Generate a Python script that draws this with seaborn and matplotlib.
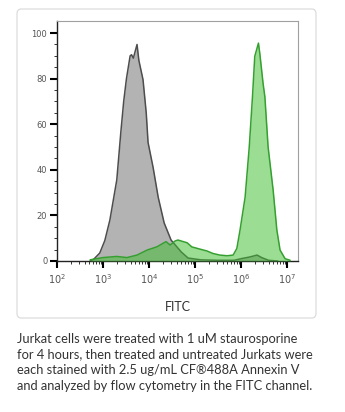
import numpy as np
import pandas as pd
import matplotlib
matplotlib.use("Agg")
import matplotlib.pyplot as plt
import seaborn as sns
from matplotlib.patches import FancyBboxPatch
from matplotlib.ticker import FixedLocator, LogLocator, NullFormatter, FuncFormatter

# ---- data (log10 FITC intensity, % of max) ----
untreated_log = [2.72, 2.80, 2.93, 3.04, 3.15, 3.30, 3.39, 3.45, 3.51, 3.59, 3.62, 3.66, 3.74,
                 3.78, 3.87, 3.94, 3.98, 4.09, 4.20, 4.33, 4.48, 4.70, 4.85, 5.13, 5.50, 5.85,
                 6.00, 6.20, 6.35, 6.45, 6.60, 6.80]
untreated_val = [0.0, 0.8, 3.5, 9.0, 18.0, 35.6, 57.0, 70.0, 80.0, 90.0, 90.5, 89.0, 95.0,
                 88.0, 79.6, 65.0, 52.0, 41.0, 28.0, 16.7, 9.2, 4.0, 1.3, 0.5, 0.3, 0.3,
                 1.0, 1.8, 2.6, 1.5, 0.3, 0.0]

treated_log = [2.72, 3.00, 3.30, 3.52, 3.74, 3.96, 4.17, 4.37, 4.46, 4.57, 4.63, 4.83, 4.93,
               5.11, 5.26, 5.39, 5.54, 5.70, 5.83, 5.91, 5.98, 6.09, 6.18, 6.25, 6.30, 6.38,
               6.41, 6.48, 6.52, 6.59, 6.70, 6.78, 6.85, 6.96, 7.07]
treated_val = [0.5, 1.5, 2.0, 1.5, 2.6, 4.8, 6.2, 8.5, 7.0, 8.8, 9.2, 8.0, 6.2,
               5.2, 4.4, 3.3, 2.6, 2.3, 2.6, 5.5, 13.6, 28.0, 50.0, 72.0, 89.8, 95.6,
               91.0, 78.0, 72.0, 50.0, 31.0, 13.6, 4.8, 1.0, 0.3]

y_ticks = [0, 20, 40, 60, 80, 100]
x_decades = [2, 3, 4, 5, 6, 7]
x_label = "FITC"
caption = ("Jurkat cells were treated with 1 uM staurosporine\n"
           "for 4 hours, then treated and untreated Jurkats were\n"
           "each stained with 2.5 ug/mL CF\u00ae488A Annexin V\n"
           "and analyzed by flow cytometry in the FITC channel.")

df_u = pd.DataFrame({"FITC": 10.0 ** np.array(untreated_log), "count": untreated_val})
df_t = pd.DataFrame({"FITC": 10.0 ** np.array(treated_log), "count": treated_val})

sns.set_theme(style="ticks")
plt.rcParams["font.family"] = ["DejaVu Sans"]

W, H = 345, 412
fig = plt.figure(figsize=(W / 100, H / 100), dpi=100)

# card frame
card = FancyBboxPatch((17 / W, 1 - 318 / H), (316 - 17) / W, (318 - 9) / H,
                      boxstyle="round,pad=0,rounding_size=0.012",
                      transform=fig.transFigure, facecolor="none",
                      edgecolor="#dcdcdc", linewidth=0.9, zorder=-1)
fig.patches.append(card)

ax = fig.add_axes([57 / W, 1 - 261 / H, (298 - 57) / W, (261 - 21) / H])
ax.set_facecolor("none")

# untreated (gray)
ax.fill_between(df_u["FITC"], df_u["count"], 0, color="#b3b3b3", linewidth=0, zorder=2)
sns.lineplot(data=df_u, x="FITC", y="count", ax=ax, color="#4d4d4d", linewidth=1.1,
             sort=False, zorder=3)
# treated (green)
ax.fill_between(df_t["FITC"], df_t["count"], 0, color="#3fbf30", alpha=0.52,
                linewidth=0, zorder=4)
sns.lineplot(data=df_t, x="FITC", y="count", ax=ax, color="#35a030", linewidth=1.1,
             sort=False, zorder=5)

ax.set_xscale("log")
ax.set_xlim(10 ** 2, 10 ** 7.24)
ax.set_ylim(0, 105.3)

ax.set_xlabel(x_label, fontsize=9, color="#333333", labelpad=11,
              family=["Lato", "DejaVu Sans"])
ax.set_ylabel("")

ax.xaxis.set_major_locator(FixedLocator([10.0 ** d for d in x_decades]))
ax.xaxis.set_major_formatter(FuncFormatter(lambda v, p: r"$10^{%d}$" % round(np.log10(v))))
ax.xaxis.set_minor_locator(LogLocator(base=10, subs=np.arange(2, 10), numticks=20))
ax.xaxis.set_minor_formatter(NullFormatter())
ax.yaxis.set_major_locator(FixedLocator(y_ticks))
ax.yaxis.set_minor_locator(FixedLocator(np.arange(0, 105, 5)))

ax.tick_params(axis="both", which="both", bottom=True, left=True, top=False, right=False)
ax.tick_params(axis="both", which="major", direction="out", length=5, width=1.5,
               color="black", labelsize=6, labelcolor="#555555", pad=2)
ax.tick_params(axis="both", which="minor", direction="out", length=2.5, width=0.7,
               color="#333333")
ax.tick_params(axis="x", which="major", labelsize=7, pad=3)

ax.spines["left"].set_color("#222222")
ax.spines["bottom"].set_color("#222222")
ax.spines["left"].set_linewidth(1.0)
ax.spines["bottom"].set_linewidth(1.0)
for s in ("top", "right"):
    ax.spines[s].set_color("#a0a0a0")
    ax.spines[s].set_linewidth(0.8)
    ax.spines[s].set_visible(True)

fig.text(17 / W, 1 - 333 / H, caption, ha="left", va="top", fontsize=9.3,
         color="#333333", linespacing=1.36, family=["Lato", "DejaVu Sans"])

fig.savefig("out.png", dpi=100)
